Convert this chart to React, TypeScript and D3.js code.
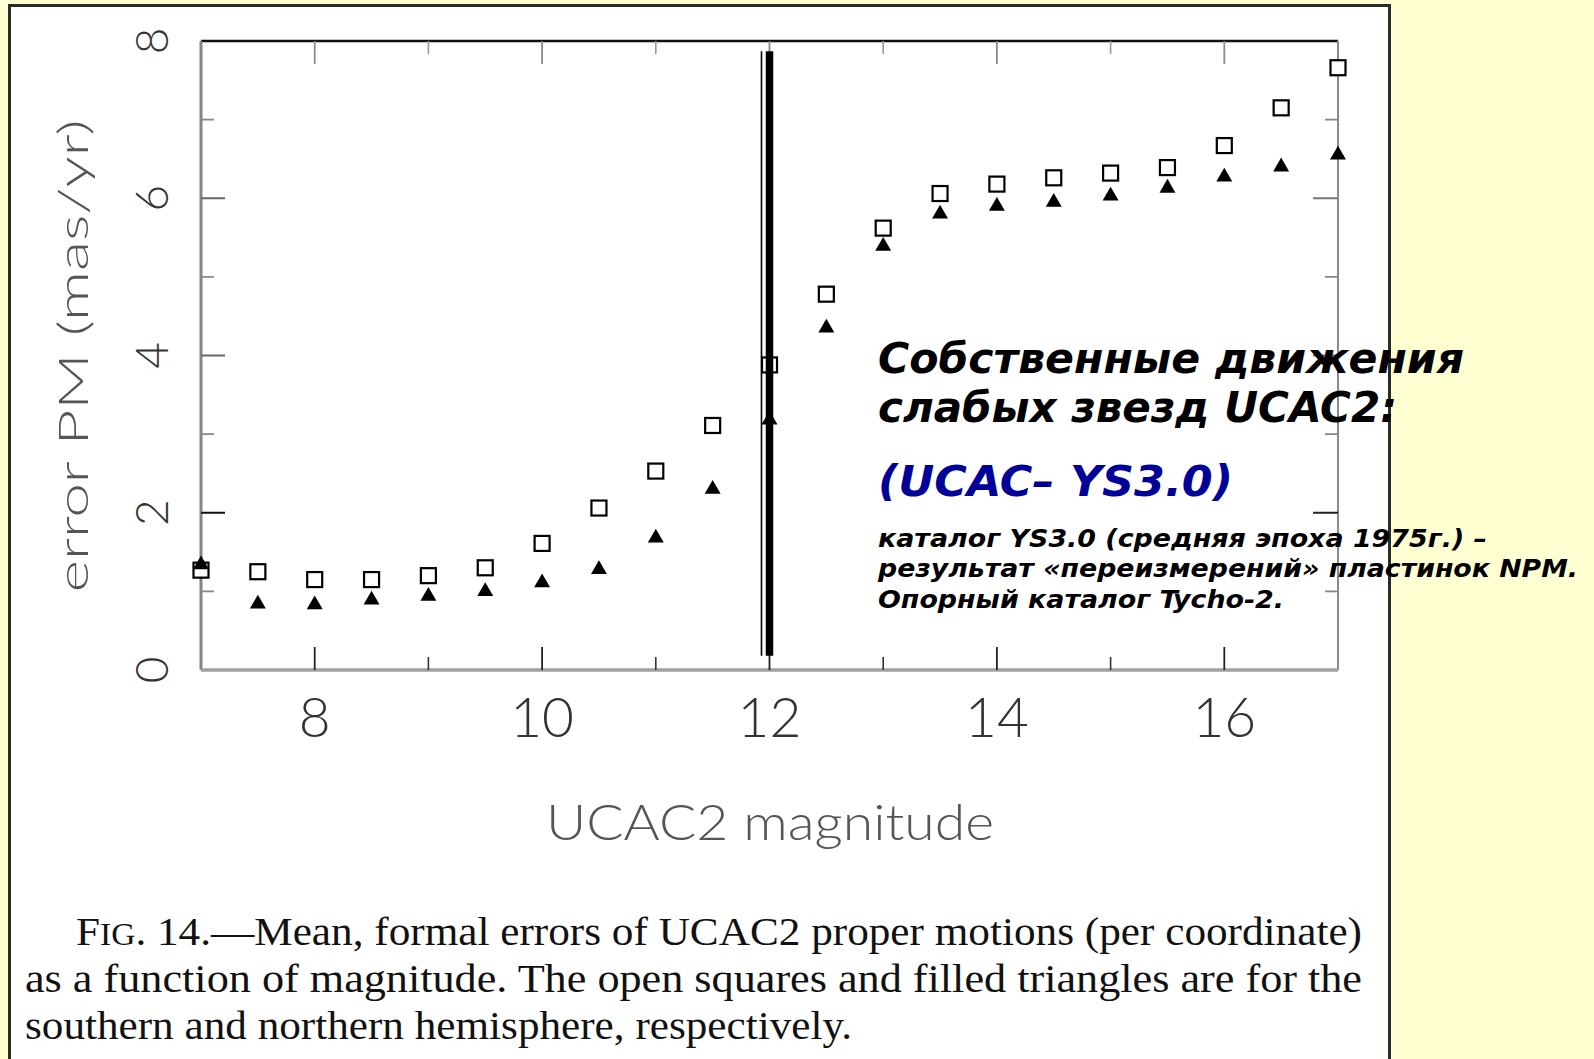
import React from 'react';
import * as d3 from 'd3';

// UCAC2 magnitude bins
const magnitudes = [7, 7.5, 8, 8.5, 9, 9.5, 10, 10.5, 11, 11.5, 12, 12.5, 13, 13.5, 14, 14.5, 15, 15.5, 16, 16.5, 17];
// open squares: southern hemisphere (mas/yr)
const southErr = [1.27, 1.25, 1.15, 1.15, 1.2, 1.3, 1.61, 2.06, 2.53, 3.11, 3.88, 4.78, 5.62, 6.06, 6.18, 6.26, 6.32, 6.39, 6.67, 7.15, 7.66];
// filled triangles: northern hemisphere (mas/yr)
const northErr = [1.34, 0.84, 0.83, 0.89, 0.94, 1.0, 1.11, 1.28, 1.68, 2.3, 3.18, 4.35, 5.39, 5.8, 5.9, 5.95, 6.03, 6.13, 6.27, 6.4, 6.55];

const xMajor = [8, 10, 12, 14, 16];
const xMinor = [9, 11, 13, 15];
const yMajor = [2, 4, 6];
const yMinor = [1, 3, 5, 7];
const yLabels = [0, 2, 4, 6, 8];

// the double vertical line at the magnitude cut
const cutMag = 12;
const cutSpan = [0.18, 7.87];

const captionLines = [
  'as a function of magnitude. The open squares and filled triangles are for the',
  'southern and northern hemisphere, respectively.',
];

const W = 1594;
const H = 1059;

const App: React.FC = () => {
  const x = d3.scaleLinear().domain([7, 17]).range([201, 1338]);
  const y = d3.scaleLinear().domain([0, 8]).range([670, 41]);
  const tri = d3.symbol().type(d3.symbolTriangle).size(110)();

  const axisFont = 'Lato, Roboto, "Open Sans", sans-serif';
  const ruFont = '"DejaVu Sans Condensed", "Noto Sans", "DejaVu Sans", sans-serif';

  return (
    <div style={{ position: 'fixed', left: 0, top: 0 }}>
      <svg width={W} height={H} style={{ display: 'block' }}>
        <rect x={0} y={0} width={W} height={H} fill="#ffffd2" />
        <rect x={9.5} y={5.5} width={1380} height={1080} fill="#fff" stroke="#2b2b2b" strokeWidth={3} />

        {/* frame */}
        <line x1={x(7)} x2={x(17)} y1={y(8)} y2={y(8)} stroke="#111" strokeWidth={2.5} />
        <line x1={x(7)} x2={x(7)} y1={y(8)} y2={y(0)} stroke="#858585" strokeWidth={3} />
        <line x1={x(17)} x2={x(17)} y1={y(8)} y2={y(0)} stroke="#8a8a8a" strokeWidth={2} />
        <line x1={x(7)} x2={x(17)} y1={y(0)} y2={y(0)} stroke="#a0a0a0" strokeWidth={3.5} />

        {/* x ticks */}
        {xMajor.map((m) => (
          <g key={'xM' + m}>
            <line x1={x(m)} x2={x(m)} y1={y(0)} y2={y(0) - 23} stroke="#222" strokeWidth={1.8} />
            <line x1={x(m)} x2={x(m)} y1={y(8)} y2={y(8) + 23} stroke="#8a8a8a" strokeWidth={1.8} />
          </g>
        ))}
        {xMinor.map((m) => (
          <g key={'xm' + m}>
            <line x1={x(m)} x2={x(m)} y1={y(0)} y2={y(0) - 13} stroke="#333" strokeWidth={1.6} />
            <line x1={x(m)} x2={x(m)} y1={y(8)} y2={y(8) + 13} stroke="#999" strokeWidth={1.6} />
          </g>
        ))}

        {/* y ticks */}
        {yMajor.map((v) => (
          <g key={'yM' + v}>
            <line x1={x(7)} x2={x(7) + 24} y1={y(v)} y2={y(v)} stroke={v === 2 ? '#111' : '#666'} strokeWidth={2} />
            <line x1={x(17)} x2={x(17) - 25} y1={y(v)} y2={y(v)} stroke={v === 2 ? '#222' : '#777'} strokeWidth={2} />
          </g>
        ))}
        {yMinor.map((v) => (
          <g key={'ym' + v}>
            <line x1={x(7)} x2={x(7) + 13} y1={y(v)} y2={y(v)} stroke="#888" strokeWidth={1.8} />
            <line x1={x(17)} x2={x(17) - 13} y1={y(v)} y2={y(v)} stroke="#888" strokeWidth={1.8} />
          </g>
        ))}

        {/* tick labels */}
        {xMajor.map((m) => (
          <text key={'xl' + m} x={x(m)} y={737} textAnchor="middle" fontFamily={axisFont} fontWeight={300} fontSize={55} fill="#333">
            {m}
          </text>
        ))}
        {yLabels.map((v) => (
          <text
            key={'yl' + v}
            transform={`translate(168,${y(v)}) rotate(-90)`}
            textAnchor="middle"
            fontFamily={axisFont}
            fontWeight={300}
            fontSize={46}
            fill="#333"
          >
            {v}
          </text>
        ))}

        {/* axis titles */}
        <text x={770} y={840} textAnchor="middle" fontFamily={axisFont} fontWeight={300} fontSize={50} fill="#555" textLength={448} lengthAdjust="spacingAndGlyphs">
          UCAC2 magnitude
        </text>
        <text
          transform="translate(88,356) rotate(-90)"
          textAnchor="middle"
          fontFamily={axisFont}
          fontWeight={300}
          fontSize={41}
          fill="#555"
          textLength={473}
          lengthAdjust="spacingAndGlyphs"
        >
          error PM (mas/yr)
        </text>

        {/* squares: southern */}
        {magnitudes.map((m, i) => (
          <rect key={'s' + m} x={x(m) - 7.5} y={y(southErr[i]) - 7.5} width={15} height={15} fill="#fff" stroke="#000" strokeWidth={2.2} />
        ))}
        {/* triangles: northern */}
        {magnitudes.map((m, i) => (
          <path key={'n' + m} d={tri || ''} transform={`translate(${x(m)},${y(northErr[i])})`} fill="#000" />
        ))}

        {/* magnitude cut */}
        <line x1={x(cutMag) - 8} x2={x(cutMag) - 8} y1={y(cutSpan[0])} y2={y(cutSpan[1])} stroke="#000" strokeWidth={1.6} />
        <line x1={x(cutMag)} x2={x(cutMag)} y1={y(cutSpan[0])} y2={y(cutSpan[1])} stroke="#000" strokeWidth={7.5} />

        {/* annotation */}
        <g fontFamily={ruFont} fontWeight="bold" fontStyle="italic" fill="#000">
          <text x={878} y={373} fontSize={43} textLength={586} lengthAdjust="spacingAndGlyphs">Собственные движения</text>
          <text x={878} y={422} fontSize={43} textLength={519} lengthAdjust="spacingAndGlyphs">слабых звезд UCAC2:</text>
          <text x={878} y={496} fontSize={43} fill="#000099" textLength={355} lengthAdjust="spacingAndGlyphs">(UCAC– YS3.0)</text>
          <text x={878} y={547} fontSize={25} textLength={609} lengthAdjust="spacingAndGlyphs">каталог YS3.0 (средняя эпоха 1975г.) –</text>
          <text x={878} y={577} fontSize={25} textLength={700} lengthAdjust="spacingAndGlyphs">результат «переизмерений» пластинок NPM.</text>
          <text x={878} y={608} fontSize={25} textLength={406} lengthAdjust="spacingAndGlyphs">Опорный каталог Tycho-2.</text>
        </g>

        {/* figure caption */}
        <g fontFamily='"Liberation Serif", "Times New Roman", serif' fontSize={40} fill="#111">
          <text x={76} y={945} textLength={1286} lengthAdjust="spacingAndGlyphs">
            F<tspan fontSize={31}>IG</tspan>. 14.—Mean, formal errors of UCAC2 proper motions (per coordinate)
          </text>
          <text x={25} y={992} textLength={1337} lengthAdjust="spacingAndGlyphs">{captionLines[0]}</text>
          <text x={25} y={1039} textLength={827} lengthAdjust="spacingAndGlyphs">{captionLines[1]}</text>
        </g>
      </svg>
    </div>
  );
};

export default App;
